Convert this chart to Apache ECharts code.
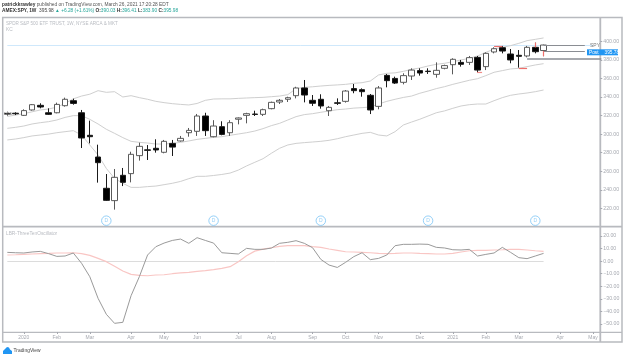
<!DOCTYPE html>
<html>
<head>
<meta charset="utf-8">
<style>html,body{margin:0;padding:0;background:#fff}#main{width:624px;height:357px}</style>
<script src="https://cdn.jsdelivr.net/npm/echarts@6/dist/echarts.min.js"></script>
</head>
<body>
<div id="main"></div>
<script>
// month labels per weekly bar, blank weeks carry no tick
const weekLabels = ['', '', '2020', '', '', '', 'Feb', '', '', '', 'Mar', '', '', '', '', 'Apr', '', '', '', 'May', '', '', '', 'Jun', '', '', '', '', 'Jul', '', '', '', 'Aug', '', '', '', '', 'Sep', '', '', '', 'Oct', '', '', '', 'Nov', '', '', '', '', 'Dec', '', '', '', '2021', '', '', '', 'Feb', '', '', '', 'Mar', '', '', '', '', 'Apr', '', '', '', 'May', ''];

const opens = [322, 322.5, 320.2, 326, 331, 323, 323, 330.6, 336, 323, 298.7, 275.3, 241.6, 228.3, 255.6, 257.4, 276.8, 283, 284.7, 280.4, 290, 292.6, 301.5, 303, 319.5, 297.2, 308, 301.5, 316, 320.2, 321.6, 321.3, 327.4, 334.6, 337.5, 341.4, 349.7, 336.4, 337.5, 325.2, 333.7, 335.3, 349, 347.9, 341.8, 329.9, 363.3, 360, 355.8, 362.6, 368.4, 367.8, 364.4, 370.9, 374.8, 377.3, 377.3, 382.7, 372.7, 388.5, 393.1, 386.3, 384.9, 384.2, 393.5, 390.03];
const closes = [321.7, 321.9, 325.3, 331.7, 329.2, 321.3, 332, 337.5, 333.1, 295.8, 297.2, 269.2, 228.6, 253.4, 248, 278.2, 286.8, 282.5, 282.9, 292.2, 286, 295.4, 304, 319.5, 303.7, 308.7, 299.7, 312.3, 317.4, 322, 321.2, 326.3, 334.2, 336.4, 339.2, 349.7, 342.1, 333.2, 330.3, 328.8, 333.2, 346.4, 346.8, 345.7, 326, 349.7, 357.6, 355, 363, 369, 365.8, 367.4, 368.7, 373.8, 380.6, 375.2, 382.4, 369, 387, 392, 389.5, 379.9, 383.8, 393.5, 388.8, 395.98];
const lows = [320, 320.5, 319.5, 325.3, 327.8, 320.6, 322.4, 329.6, 331.7, 285, 290, 247.7, 228, 218.6, 244, 248, 271.4, 272.1, 280, 279.3, 276.4, 291.9, 297.2, 298, 298, 296.5, 298.7, 298, 310.5, 311.6, 319.5, 319.5, 326.7, 332.4, 334.6, 338.5, 334.2, 330.3, 327.4, 319.5, 331.4, 333.9, 344, 340.3, 321.6, 326.7, 350.4, 354, 353.6, 358.3, 363, 364.8, 360.8, 369.8, 364.4, 372.7, 374.5, 366.6, 369, 387, 387, 376.3, 371.6, 382.7, 387, 383.9];
const highs = [323, 323.5, 326.7, 332.4, 333.2, 327.8, 333.9, 339.3, 338.2, 326, 314.5, 288.6, 257, 262.4, 263.5, 281, 290.8, 288.2, 294.4, 293.7, 293.7, 298, 306.6, 321.7, 323, 315, 313.8, 315, 318, 323, 325.2, 327.4, 335, 337.8, 340.3, 351, 358.3, 342.1, 342.9, 330.3, 338.5, 347.5, 354, 349.3, 343.2, 351.8, 364.8, 361.9, 365.5, 370.9, 370.9, 370.9, 377.3, 374.8, 381.7, 379.9, 384.2, 384.2, 388.1, 393.5, 395, 391.7, 390.6, 395, 398.5, 396.41];

// keltner channel
const kcUpper = [319, 320.5, 322, 324, 326, 327, 329, 333, 338, 341, 343, 346.8, 345, 345.7, 340, 341.4, 339.3, 337.5, 335.3, 333.9, 332.8, 332, 331.4, 333, 336.4, 337.8, 338, 338, 338.5, 338.9, 339.3, 339.6, 340.3, 341, 342.5, 349, 350.4, 351, 351.8, 352.5, 353, 353.6, 354.7, 355.4, 357.2, 363.7, 365.5, 366, 367.6, 369.8, 371.2, 373.4, 375.2, 376.3, 378, 379.9, 381.6, 384.2, 388, 391.7, 393.5, 395.3, 397.8, 400.7, 402.1, 403.6];
const kcMiddle = [306.2, 307.3, 308.7, 310.9, 312.3, 313.4, 315.2, 318, 319.9, 319.9, 315.9, 310.9, 305.2, 300.8, 296.2, 292.2, 291.1, 290.4, 289.3, 289.3, 290, 291.1, 292.6, 294.3, 295.4, 296.5, 297.2, 298.7, 300.1, 301.5, 303.3, 305.9, 309.1, 311.6, 315.2, 318.8, 321, 322, 323.5, 324.9, 326.3, 327, 328, 328.5, 329.2, 332.4, 335.3, 337.5, 339.5, 341, 344, 346.4, 349, 351.1, 353.6, 355.8, 358, 359.7, 363, 366.6, 368.4, 370.2, 370.9, 372.7, 374.5, 375.9];
const kcLower = [293.7, 294.7, 296.2, 298, 299, 300, 301.5, 302.6, 303.7, 299, 288.2, 277.5, 263, 252.3, 247, 242.6, 242.6, 243.4, 244, 245.5, 247, 249, 252, 254.5, 254.5, 255.4, 256.5, 258, 261.2, 265.7, 269.6, 273.5, 279.3, 284.7, 288.3, 290, 290.8, 291.5, 292.2, 293.3, 295, 297.2, 299, 300.8, 301.9, 299, 298, 302.6, 309.8, 313, 316, 319.5, 323, 325, 327.8, 330.3, 331.7, 332.4, 332.4, 336, 339.3, 341.8, 343.2, 344.3, 345.7, 347.5];

const oscFast = [7, 6.7, 6.5, 7.3, 7.8, 6, 3.8, 4.1, 6.5, -1.7, -12.4, -29.6, -42.3, -49.5, -48.7, -27.5, -12.4, 4.9, 11.5, 14.4, 16.5, 17.6, 14.2, 18.7, 16.5, 14.4, 6.7, 6.2, 5.7, 10.2, 9.4, 9.4, 10.4, 14.2, 15, 16.3, 14.2, 10.7, 1.4, -3.1, -5, -0.95, 3.6, 6.7, 1.2, 2.2, 4.9, 12.3, 13.4, 13.4, 13.6, 13.4, 11, 10.5, 9.1, 8.9, 9.4, 4.1, 5.4, 6.5, 11, 7, 2.8, 2, 4.1, 6.2];
const oscSlow = [4.9, 5.1, 5.4, 5.7, 6, 6.2, 6.5, 6.5, 6.7, 6, 4.6, 2.2, -0.4, -4.1, -7.8, -10.5, -11.3, -11.6, -11, -10.8, -10, -9.4, -8.9, -8.1, -7.6, -6.8, -5.7, -4.4, -0.4, 4.3, 8, 9.6, 10.7, 11.8, 12.3, 12.3, 12.3, 11.5, 11, 9.7, 8.6, 7.5, 7.3, 7, 6.7, 6.2, 6, 6.2, 6.5, 6.5, 6.2, 6, 5.7, 5.7, 6.2, 7.3, 8.3, 8.6, 8.6, 8.9, 9.1, 9.4, 9.4, 8.9, 8.3, 7.8];

const priceTicks = [220, 240, 260, 280, 300, 320, 340, 360, 380, 400];
const oscTicks = [-50, -40, -30, -20, -10, 0, 10, 20];

// dividend markers [bar, price level of the icon row]
const dividendBars = [12, 25, 38, 51, 64];
const dividendLevel = 206.7;

const lastPrice = 395.78;
// callout lines [from bar, to bar, price, width]
const calloutLines = [[65, 70, 395.2, 1], [65, 70, 389.2, 1], [63, 72, 381, 1.5]];
// red level marks [from bar, to bar, price]
const redLevels = [[59, 60, 394.5], [62, 63, 371.4]];
const redDash = [[57, 366.4]];
// red wick parts [bar, from price, to price]
const redWicks = [[64, 393.5, 398.5], [65, 389.6, 383.9]];

const gray = '#a6a9b0';
const frameColor = '#b8babf';
const font = '"Liberation Sans", sans-serif';
const green = '#26a69a';

var chartDom = document.getElementById('main');
var myChart = echarts.init(chartDom, null, { renderer: 'canvas' });

const candleData = opens.map((o, i) => [o, closes[i], lows[i], highs[i]]);

function bandSeries(values) {
    return {
        type: 'line', data: values, xAxisIndex: 0, yAxisIndex: 0, z: 1,
        symbol: 'none', silent: true,
        lineStyle: { color: '#cfcfcf', width: 1 }
    };
}

function thinLine(points, color, width) {
    return {
        silent: true, symbol: 'none', animation: false, label: { show: false },
        lineStyle: { color: color, width: width, type: 'solid' },
        data: points
    };
}

function hline(v, c) {
    return { type: 'line', shape: { x1: v[0], y1: v[1], x2: v[2], y2: v[3] }, style: { stroke: c || frameColor, lineWidth: v[4] || 1.5 }, silent: true };
}

function txt(x, y, t, fill, size, extra) {
    return {
        type: 'text', x: x, y: y, silent: true, z: 50,
        style: Object.assign({ text: t, fill: fill, font: size + 'px ' + font, textVerticalAlign: 'middle' }, extra || {})
    };
}

const option = {
    animation: false,
    backgroundColor: '#fff',
    // panes run a little past the price scale so the weekly spacing holds, the scale sits back by offset
    grid: [
        { left: 3.2, top: 18, width: 602.25, height: 208.9 },
        { left: 3.2, top: 227.5, width: 602.25, height: 104.5 }
    ],
    xAxis: [
        {
            type: 'category', gridIndex: 0, data: weekLabels, boundaryGap: true,
            axisLine: { show: false, onZero: false }, axisTick: { show: false }, axisLabel: { show: false }, splitLine: { show: false }
        },
        {
            type: 'category', gridIndex: 1, data: weekLabels, boundaryGap: true, position: 'bottom',
            axisLine: { show: false, onZero: false },
            axisTick: { show: true, alignWithLabel: true, length: 2, interval: (i, v) => v !== '', lineStyle: { color: gray, width: 1 } },
            axisLabel: { interval: (i, v) => v !== '', color: gray, fontSize: 5, fontFamily: font, margin: 3 },
            splitLine: { show: false }
        }
    ],
    yAxis: [
        {
            type: 'value', gridIndex: 0, position: 'right', offset: -5.2, min: 200, max: 425.1, scale: true,
            axisLine: { show: false },
            axisTick: { show: true, length: 2, customValues: priceTicks, lineStyle: { color: gray } },
            axisLabel: { customValues: priceTicks, color: gray, fontSize: 5.2, fontFamily: font, margin: 3, formatter: v => v.toFixed(2) },
            splitLine: { show: false }
        },
        {
            type: 'value', gridIndex: 1, position: 'right', offset: -5.2, min: -56.4, max: 26.8, scale: true,
            axisLine: { show: false },
            axisTick: { show: true, length: 2, customValues: oscTicks, lineStyle: { color: gray } },
            axisLabel: { customValues: oscTicks, color: gray, fontSize: 5.2, fontFamily: font, margin: 3, formatter: v => v.toFixed(2).replace('-', '\u2212') },
            splitLine: { show: false }
        }
    ],
    series: [
        bandSeries(kcUpper),
        bandSeries(kcMiddle),
        bandSeries(kcLower),
        {
            type: 'candlestick', data: candleData, xAxisIndex: 0, yAxisIndex: 0, z: 3,
            barWidth: 6, silent: true,
            itemStyle: { color: '#fff', color0: '#000', borderColor: '#5a5a5a', borderColor0: '#1a1a1a', borderWidth: 1 },
            markLine: Object.assign(thinLine([[{ xAxis: 0, yAxis: lastPrice }, { xAxis: 71, yAxis: lastPrice }]], '#cfe8fb', 1), { z: 0 })
        },
        // callout lines next to the last bar
        ...calloutLines.map(l => ({
            type: 'line', data: [], xAxisIndex: 0, yAxisIndex: 0, z: 4,
            markLine: thinLine([[{ xAxis: l[0], yAxis: l[2] }, { xAxis: l[1], yAxis: l[2] }]], '#8a8d93', l[3])
        })),
        {
            type: 'line', data: [], xAxisIndex: 0, yAxisIndex: 0, z: 5,
            markLine: thinLine(
                redLevels.map(l => [{ xAxis: l[0], yAxis: l[2] }, { xAxis: l[1], yAxis: l[2] }])
                    .concat(redWicks.map(w => [{ xAxis: w[0], yAxis: w[1] }, { xAxis: w[0], yAxis: w[2] }])),
                '#ef6f6c', 1.2)
        },
        {
            type: 'scatter', data: redDash, xAxisIndex: 0, yAxisIndex: 0, z: 5, silent: true,
            symbol: 'rect', symbolSize: [5, 1.2], symbolOffset: [2, 0],
            itemStyle: { color: '#ef6f6c' }
        },
        {
            type: 'scatter', data: dividendBars.map(i => [i, dividendLevel]), xAxisIndex: 0, yAxisIndex: 0, z: 6, silent: true,
            symbol: 'circle', symbolSize: 9.5,
            itemStyle: { color: '#fff', borderColor: '#7cc4f5', borderWidth: 1 },
            label: { show: true, position: 'inside', formatter: 'D', color: '#7cc4f5', fontSize: 5, fontFamily: font }
        },
        {
            type: 'line', data: oscSlow, xAxisIndex: 1, yAxisIndex: 1, z: 2,
            symbol: 'none', silent: true, lineStyle: { color: '#f9c6c4', width: 1.2 },
            markLine: Object.assign(thinLine([[{ xAxis: 0, yAxis: 0 }, { xAxis: 65, yAxis: 0 }]], '#dcdcdc', 1), { z: 1 })
        },
        {
            type: 'line', data: oscFast, xAxisIndex: 1, yAxisIndex: 1, z: 3,
            symbol: 'none', silent: true, lineStyle: { color: '#9a9a9a', width: 1 }
        }
    ],
    graphic: [
        // pane frame
        { type: 'rect', shape: { x: 2.7, y: 17.5, width: 619.3, height: 324.5 }, style: { fill: 'none', stroke: frameColor, lineWidth: 1.5 }, silent: true, z: 40 },
        hline([2.7, 226.7, 622, 226.7, 1.8]),
        hline([2.7, 332.3, 622, 332.3, 1.2]),
        hline([600.3, 17.5, 600.3, 342, 1.8]),
        // header
        {
            type: 'text', x: 2, y: 5, silent: true, z: 50,
            style: {
                text: '{b|patrickkrawley} published on TradingView.com, March 26, 2021 17:20:28 EDT',
                fill: '#555', font: '4.8px ' + font, textVerticalAlign: 'middle',
                rich: { b: { fill: '#333', fontWeight: 'bold', fontSize: 4.8, fontFamily: font } }
            }
        },
        {
            type: 'text', x: 2, y: 11, silent: true, z: 50,
            style: {
                text: '{b|AMEX:SPY, 1W}  395.98 {g|\u25B2 +6.28 (+1.61%)} {b|O:}{g|390.03} {b|H:}{g|396.41} {b|L:}{g|383.90} {b|C:}{g|395.98}',
                fill: '#444', font: '4.8px ' + font, textVerticalAlign: 'middle',
                rich: {
                    b: { fill: '#333', fontWeight: 'bold', fontSize: 4.8, fontFamily: font },
                    g: { fill: green, fontSize: 4.8, fontFamily: font }
                }
            }
        },
        txt(6, 23.5, 'SPDR S&P 500 ETF TRUST, 1W, NYSE ARCA & MKT', '#b9bcc2', 4.6),
        txt(6, 29.5, 'KC', '#b9bcc2', 4.8),
        txt(4, 114, 'nbs', '#777', 5),
        txt(6, 233.5, 'LBR-ThreeTenOscillator', '#b9bcc2', 4.8),
        // last price tags
        txt(590, 46, 'SPY', '#777', 5),
        { type: 'rect', shape: { x: 587, y: 49.3, width: 31, height: 6 }, style: { fill: '#2196f3' }, silent: true, z: 45 },
        txt(589, 52.4, 'Post', '#fff', 4.8),
        txt(604.5, 52.4, '395.78', '#fff', 4.8),
        // footer logo
        { type: 'polygon', shape: { points: [[3, 354], [3, 351], [5, 349], [7, 347], [9, 347.5], [10, 349.5], [12, 351], [12, 354]] }, style: { fill: '#2196f3' }, silent: true, z: 50 },
        txt(13.5, 350.5, 'TradingView', '#444', 4.9)
    ]
};

myChart.setOption(option);
</script>
</body>
</html>
